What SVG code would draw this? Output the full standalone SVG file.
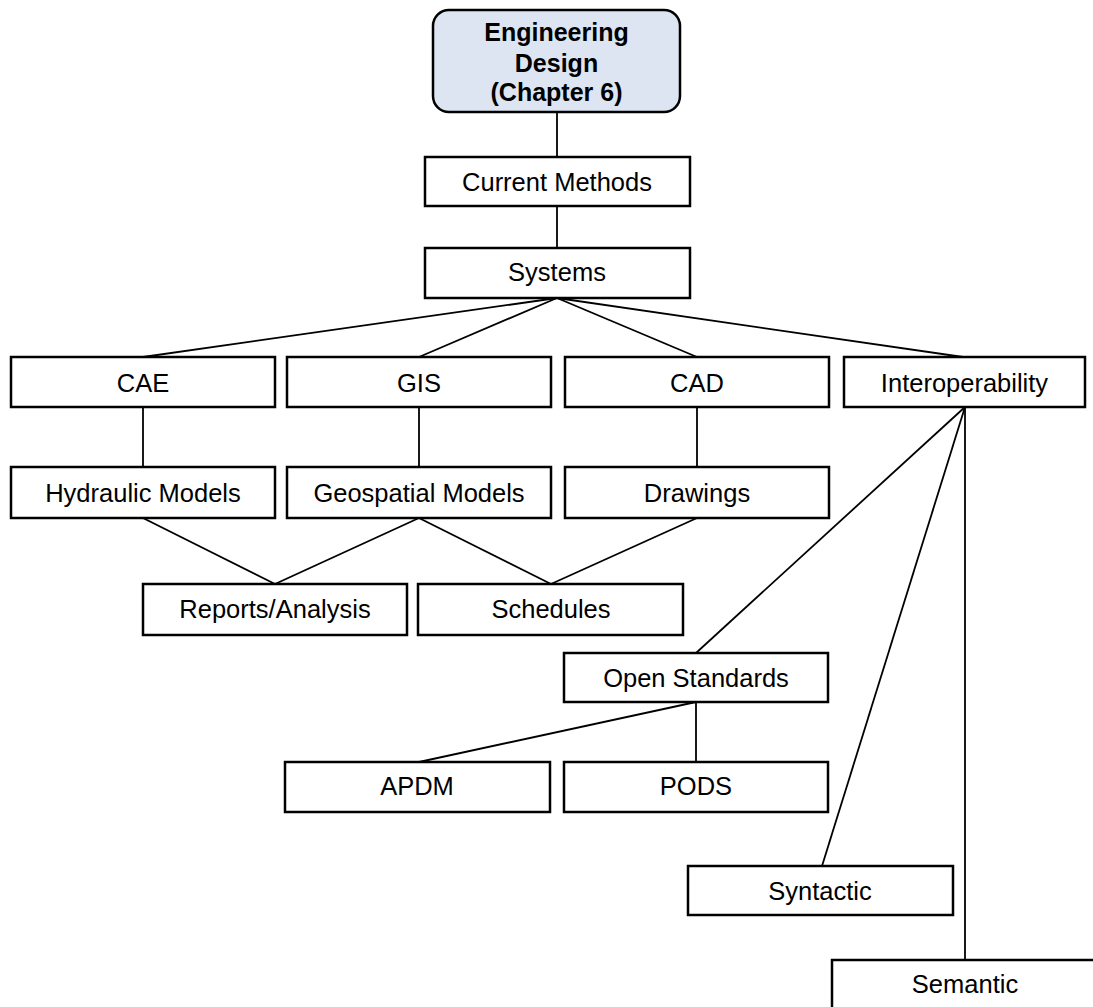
<svg xmlns="http://www.w3.org/2000/svg" width="1093" height="1007" viewBox="0 0 1093 1007">
<style>
.box{fill:#fff;stroke:#000;stroke-width:2.5}
.root{fill:#dce5f1;stroke:#000;stroke-width:2.5}
.t{font-family:"Liberation Sans",Arial,sans-serif;font-size:25.5px;fill:#000;text-anchor:middle}
.tb{font-family:"Liberation Sans",Arial,sans-serif;font-size:25px;font-weight:bold;fill:#000;text-anchor:middle}
.c{stroke:#000;stroke-width:1.8;fill:none}
</style>
<rect width="1093" height="1007" fill="#fff"/>
<g id="connectors">
<line class="c" x1="557" y1="112" x2="557" y2="157"/>
<line class="c" x1="557" y1="206" x2="557" y2="248"/>
<line class="c" x1="557" y1="298" x2="143" y2="357"/>
<line class="c" x1="557" y1="298" x2="419" y2="357"/>
<line class="c" x1="557" y1="298" x2="697" y2="357"/>
<line class="c" x1="557" y1="298" x2="963" y2="357"/>
<line class="c" x1="143" y1="407" x2="143" y2="467"/>
<line class="c" x1="419" y1="407" x2="419" y2="467"/>
<line class="c" x1="697" y1="407" x2="697" y2="467"/>
<line class="c" x1="143" y1="518" x2="275" y2="584"/>
<line class="c" x1="419" y1="518" x2="275" y2="584"/>
<line class="c" x1="419" y1="518" x2="551" y2="584"/>
<line class="c" x1="697" y1="518" x2="551" y2="584"/>
<line class="c" x1="965" y1="407" x2="696" y2="653"/>
<line class="c" x1="965" y1="407" x2="822" y2="866"/>
<line class="c" x1="965" y1="407" x2="965" y2="960"/>
<line class="c" x1="696" y1="702" x2="419" y2="762"/>
<line class="c" x1="696" y1="702" x2="696" y2="762"/>
</g>
<g id="engineering-design"><rect class="root" x="433" y="10" width="247" height="102" rx="16"/><text class="tb" x="556.5" y="41">Engineering</text><text class="tb" x="556.5" y="72">Design</text><text class="tb" x="556.5" y="101">(Chapter 6)</text></g>
<g id="current-methods"><rect class="box" x="425" y="157" width="265" height="49"/><text class="t" x="557" y="191">Current Methods</text></g>
<g id="systems"><rect class="box" x="425" y="248" width="265" height="50"/><text class="t" x="557" y="281">Systems</text></g>
<g id="cae"><rect class="box" x="11" y="357" width="264" height="50"/><text class="t" x="143" y="392">CAE</text></g>
<g id="gis"><rect class="box" x="287" y="357" width="264" height="50"/><text class="t" x="419" y="392">GIS</text></g>
<g id="cad"><rect class="box" x="565" y="357" width="264" height="50"/><text class="t" x="697" y="392">CAD</text></g>
<g id="interoperability"><rect class="box" x="844" y="357" width="241" height="50"/><text class="t" x="964.5" y="392">Interoperability</text></g>
<g id="hydraulic-models"><rect class="box" x="11" y="467" width="264" height="51"/><text class="t" x="143" y="502">Hydraulic Models</text></g>
<g id="geospatial-models"><rect class="box" x="287" y="467" width="264" height="51"/><text class="t" x="419" y="502">Geospatial Models</text></g>
<g id="drawings"><rect class="box" x="565" y="467" width="264" height="51"/><text class="t" x="697" y="502">Drawings</text></g>
<g id="reports-analysis"><rect class="box" x="143" y="584" width="264" height="51"/><text class="t" x="275" y="618">Reports/Analysis</text></g>
<g id="schedules"><rect class="box" x="418" y="584" width="265" height="51"/><text class="t" x="551" y="618">Schedules</text></g>
<g id="open-standards"><rect class="box" x="564" y="653" width="264" height="49"/><text class="t" x="696" y="687">Open Standards</text></g>
<g id="apdm"><rect class="box" x="285" y="762" width="265" height="50"/><text class="t" x="417" y="795">APDM</text></g>
<g id="pods"><rect class="box" x="564" y="762" width="264" height="50"/><text class="t" x="696" y="795">PODS</text></g>
<g id="syntactic"><rect class="box" x="688" y="866" width="265" height="49"/><text class="t" x="820" y="900">Syntactic</text></g>
<g id="semantic"><rect class="box" x="832" y="960" width="266" height="60"/><text class="t" x="965" y="993">Semantic</text></g>
</svg>
